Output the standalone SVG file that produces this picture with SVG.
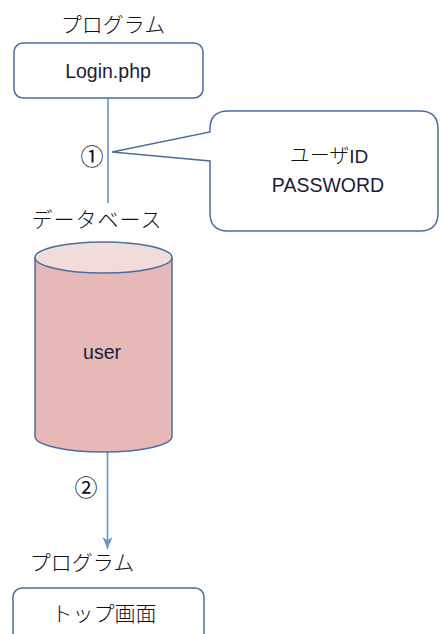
<svg xmlns="http://www.w3.org/2000/svg" width="440" height="634" viewBox="0 0 440 634">
  <style>
    .jp { font-family: "Noto Sans CJK JP", "Liberation Sans", sans-serif; font-size: 21px; font-weight: 300; fill: #111; text-anchor: middle; }
    .lat { font-family: "Liberation Sans", "Noto Sans", sans-serif; font-size: 19.5px; fill: #1c1c36; text-anchor: middle; }
    .num { font-family: "Noto Sans CJK JP", "DejaVu Sans", sans-serif; font-size: 23px; font-weight: 400; fill: #111; text-anchor: middle; }
    .box { fill: #ffffff; stroke: #4a6e9e; stroke-width: 1.5; }
    .link { fill: none; stroke: #6a93c8; stroke-width: 1.6; }
  </style>
  <defs>
    <marker id="arrow" viewBox="0 0 14 12" refX="13" refY="6" markerWidth="13" markerHeight="11" orient="auto" markerUnits="userSpaceOnUse">
      <path d="M0,0.5 L13,6 L0,11.5 L3.5,6 Z" fill="#6a93c8"/>
    </marker>
  </defs>

  <rect width="440" height="634" fill="#ffffff"/>

  <!-- connectors -->
  <g id="connectors">
    <line class="link" x1="108" y1="98" x2="108" y2="203"/>
    <line class="link" x1="107.5" y1="452" x2="107.5" y2="549" marker-end="url(#arrow)"/>
    <text class="num" x="92" y="165">①</text>
    <text class="num" x="86" y="496">②</text>
  </g>

  <!-- login program -->
  <g id="login">
    <text class="jp" x="113" y="32">プログラム</text>
    <rect class="box" x="14" y="43" width="189" height="55" rx="9"/>
    <text class="lat" x="108" y="78">Login.php</text>
  </g>

  <!-- credentials callout -->
  <g id="credentials">
    <path class="box" d="M228,111 H420 Q438,111 438,129 V213 Q438,231 420,231 H228 Q210,231 210,213 V161 L112,152 L210,132 V129 Q210,111 228,111 Z"/>
    <text class="jp" x="329" y="163" style="font-size:20px">ユーザ<tspan style="font-family:'Liberation Sans',sans-serif;font-size:19px;font-weight:400;fill:#1c1c36">ID</tspan></text>
    <text class="lat" x="328" y="192">PASSWORD</text>
  </g>

  <!-- user database -->
  <g id="database">
    <text class="jp" x="97" y="227" letter-spacing="1">データベース</text>
    <path d="M35,257.5 V436.5 A68.5,15.5 0 0 0 172,436.5 V257.5" fill="#e6b8b7" stroke="#4a6e9e" stroke-width="1.5"/>
    <ellipse cx="103.5" cy="257.5" rx="68.5" ry="15.5" fill="#f2dcdb" stroke="#4a6e9e" stroke-width="1.5"/>
    <text class="lat" x="102" y="359">user</text>
  </g>

  <!-- top page program -->
  <g id="toppage">
    <text class="jp" x="82" y="570">プログラム</text>
    <rect class="box" x="13" y="588" width="191" height="70" rx="9"/>
    <text class="jp" x="104" y="621">トップ画面</text>
  </g>
</svg>
